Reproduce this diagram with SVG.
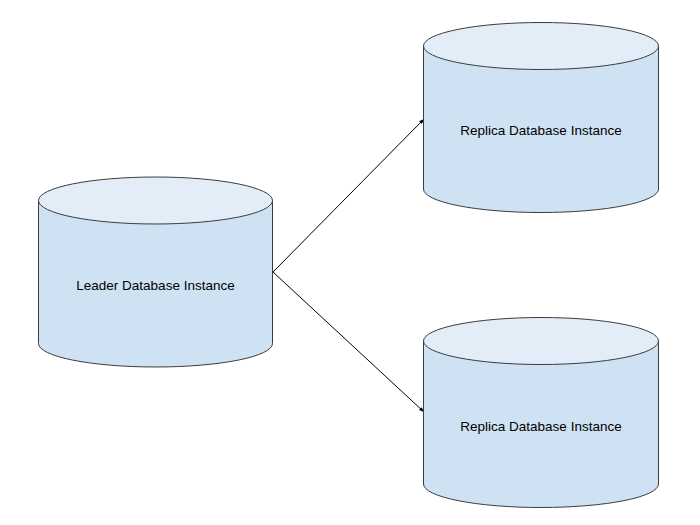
<svg xmlns="http://www.w3.org/2000/svg" width="700" height="525" viewBox="0 0 700 525">
<defs>
<style>
.body{fill:#cfe2f3;stroke:#3c3c3c;stroke-width:1}
.top{fill:#e2edf7;stroke:#3c3c3c;stroke-width:1}
.lbl{font-family:"Liberation Sans",Arial,sans-serif;font-size:13.5px;fill:#000;text-anchor:middle;dominant-baseline:central}
.edge{stroke:#000;stroke-width:1;fill:none}
</style>
<marker id="arr" viewBox="0 0 10 10" refX="10" refY="5" markerWidth="5" markerHeight="5" orient="auto" markerUnits="userSpaceOnUse">
<path d="M0,1 L10,5 L0,9 Z" fill="#000"/>
</marker>
</defs>
<rect width="700" height="525" fill="#fff"/>
<g id="connectors">
<line class="edge" x1="273" y1="272" x2="424" y2="119" marker-end="url(#arr)"/>
<line class="edge" x1="273" y1="272" x2="424" y2="412" marker-end="url(#arr)"/>
</g>
<g id="leader">
<path class="body" d="M38.5,200.5 L38.5,343.5 A117,23.5 0 0 0 272.5,343.5 L272.5,200.5 Z"/>
<ellipse class="top" cx="155.5" cy="200.5" rx="117" ry="23.5"/>
<text class="lbl" x="155.5" y="285">Leader Database Instance</text>
</g>
<g id="replica1">
<path class="body" d="M423.5,46 L423.5,189 A117.5,23.5 0 0 0 658.5,189 L658.5,46 Z"/>
<ellipse class="top" cx="541" cy="46" rx="117.5" ry="23.5"/>
<text class="lbl" x="541" y="130">Replica Database Instance</text>
</g>
<g id="replica2">
<path class="body" d="M423.5,341 L423.5,484 A117.5,23.5 0 0 0 658.5,484 L658.5,341 Z"/>
<ellipse class="top" cx="541" cy="341" rx="117.5" ry="23.5"/>
<text class="lbl" x="541" y="426">Replica Database Instance</text>
</g>
</svg>
